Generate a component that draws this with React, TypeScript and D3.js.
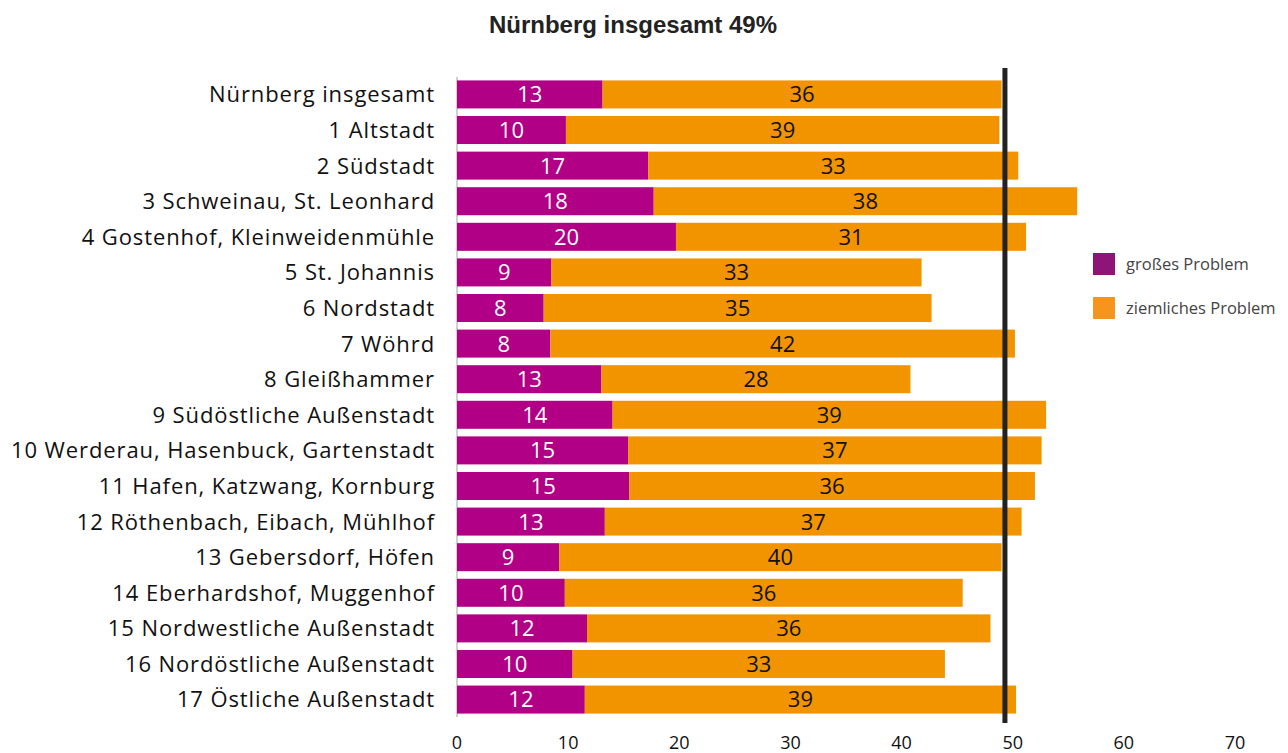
import React, { useRef, useEffect } from 'react';
import * as d3 from 'd3';

const categories = [
  'Nürnberg insgesamt', '1 Altstadt', '2 Südstadt', '3 Schweinau, St. Leonhard',
  '4 Gostenhof, Kleinweidenmühle', '5 St. Johannis', '6 Nordstadt', '7 Wöhrd',
  '8 Gleißhammer', '9 Südöstliche Außenstadt', '10 Werderau, Hasenbuck, Gartenstadt',
  '11 Hafen, Katzwang, Kornburg', '12 Röthenbach, Eibach, Mühlhof', '13 Gebersdorf, Höfen',
  '14 Eberhardshof, Muggenhof', '15 Nordwestliche Außenstadt', '16 Nordöstliche Außenstadt',
  '17 Östliche Außenstadt',
];

// großes Problem (Prozent)
const grossValues = [13.1, 9.8, 17.2, 17.7, 19.7, 8.5, 7.8, 8.4, 13.0, 14.0, 15.4, 15.5, 13.3, 9.2, 9.7, 11.7, 10.4, 11.5];
// ziemliches Problem (Prozent)
const ziemlichValues = [35.9, 39.0, 33.3, 38.1, 31.5, 33.3, 34.9, 41.8, 27.8, 39.0, 37.2, 36.5, 37.5, 39.8, 35.8, 36.3, 33.5, 38.8];
const grossLabels = ['13', '10', '17', '18', '20', '9', '8', '8', '13', '14', '15', '15', '13', '9', '10', '12', '10', '12'];
const ziemlichLabels = ['36', '39', '33', '38', '31', '33', '35', '42', '28', '39', '37', '36', '37', '40', '36', '36', '33', '39'];
const xTicks = [0, 10, 20, 30, 40, 50, 60, 70];
const referenceValue = 49.3;
const seriesNames = ['großes Problem', 'ziemliches Problem'];

const App = () => {
  const ref = useRef<SVGSVGElement>(null);

  useEffect(() => {
    const svg = d3.select(ref.current);
    svg.selectAll('*').remove();
    const font = '"Open Sans", sans-serif';

    const x = d3.scaleLinear().domain([0, 70]).range([457, 1235]);
    const y = d3.scaleBand().domain(categories).range([77, 717]).paddingInner(0.213).paddingOuter(0.096);

    // title
    svg.append('text')
      .attr('x', 633).attr('y', 33)
      .attr('text-anchor', 'middle')
      .style('font-family', '"Liberation Sans", Arial, sans-serif')
      .style('font-weight', 'bold').style('font-size', '24px').style('fill', '#222')
      .text('Nürnberg insgesamt 49%');

    // axis line
    svg.append('line')
      .attr('x1', x(0)).attr('x2', x(0)).attr('y1', 77).attr('y2', 717)
      .style('stroke', '#d0d0d0').style('stroke-width', 2);

    const rows = categories.map((c, i) => ({
      c, g: grossValues[i], z: ziemlichValues[i], gl: grossLabels[i], zl: ziemlichLabels[i],
    }));

    svg.selectAll('.bar-gross').data(rows).enter().append('rect')
      .attr('x', x(0)).attr('y', d => y(d.c)!)
      .attr('width', d => x(d.g) - x(0)).attr('height', y.bandwidth())
      .style('fill', '#b10085');

    svg.selectAll('.bar-ziem').data(rows).enter().append('rect')
      .attr('x', d => x(d.g)).attr('y', d => y(d.c)!)
      .attr('width', d => x(d.g + d.z) - x(d.g)).attr('height', y.bandwidth())
      .style('fill', '#f29400');

    svg.selectAll('.lbl-gross').data(rows).enter().append('text')
      .attr('x', d => (x(0) + x(d.g)) / 2).attr('y', d => y(d.c)! + y.bandwidth() / 2)
      .attr('dy', '0.36em').attr('text-anchor', 'middle')
      .style('font-family', font).style('font-size', '22px').style('fill', '#fff')
      .text(d => d.gl);

    svg.selectAll('.lbl-ziem').data(rows).enter().append('text')
      .attr('x', d => (x(d.g) + x(d.g + d.z)) / 2).attr('y', d => y(d.c)! + y.bandwidth() / 2)
      .attr('dy', '0.36em').attr('text-anchor', 'middle')
      .style('font-family', font).style('font-size', '22px').style('fill', '#111')
      .text(d => d.zl);

    // category labels
    svg.selectAll('.cat').data(categories).enter().append('text')
      .attr('x', 435).attr('y', d => y(d)! + y.bandwidth() / 2)
      .attr('dy', '0.36em').attr('text-anchor', 'end')
      .style('font-family', font).style('font-size', '22px').style('letter-spacing', '0.9px')
      .style('fill', '#111')
      .text(d => d);

    // x tick labels
    svg.selectAll('.tick').data(xTicks).enter().append('text')
      .attr('x', d => x(d)).attr('y', 743).attr('dy', '0.36em')
      .attr('text-anchor', 'middle')
      .style('font-family', font).style('font-size', '18px').style('fill', '#111')
      .text(d => d);

    // reference line
    svg.append('line')
      .attr('x1', x(referenceValue)).attr('x2', x(referenceValue)).attr('y1', 68).attr('y2', 723)
      .style('stroke', '#222').style('stroke-width', 5);

    // legend
    const legendColors = ['#8e1578', '#f7941d'];
    const legend = svg.append('g').attr('transform', 'translate(1093,253)');
    seriesNames.forEach((name, i) => {
      legend.append('rect').attr('x', 0).attr('y', i * 44).attr('width', 22).attr('height', 22)
        .style('fill', legendColors[i]);
      legend.append('text').attr('x', 33).attr('y', i * 44 + 11).attr('dy', '0.36em')
        .style('font-family', font).style('font-size', '16.5px').style('fill', '#444')
        .text(name);
    });
  }, []);

  return (
    <svg ref={ref} width={1288} height={753} style={{ position: 'absolute', left: 0, top: 0, background: '#fff' }}></svg>
  );
};

export default App;
